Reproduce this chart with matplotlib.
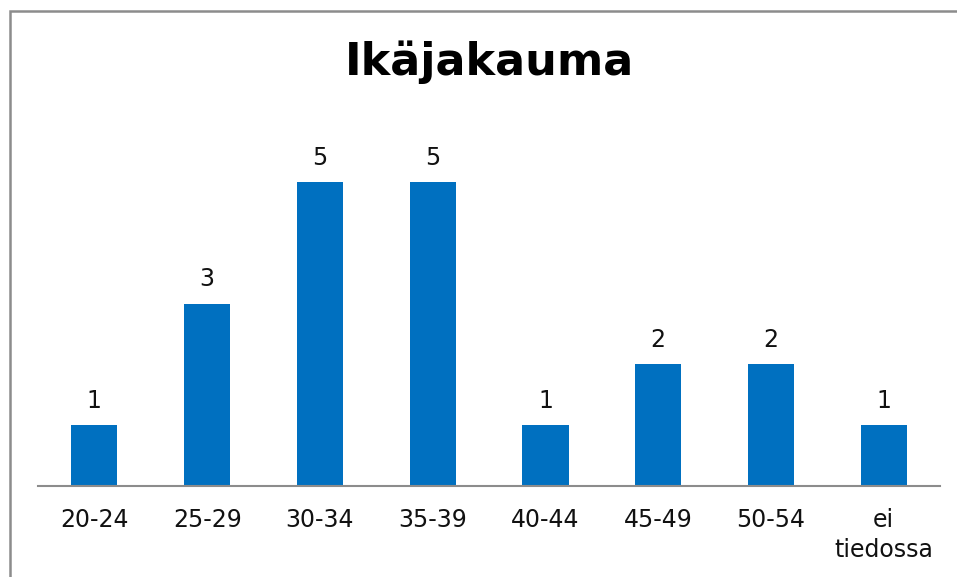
import numpy as np
import matplotlib.pyplot as plt
from matplotlib.patches import Rectangle

plt.rcParams['font.family'] = ['DejaVu Sans']

# Datos
ikaryhmat = ['20-24', '25-29', '30-34', '35-39', '40-44', '45-49', '50-54', 'ei\ntiedossa']
maarat = [1, 3, 5, 5, 1, 2, 2, 1]

fig = plt.figure(figsize=(9.57, 5.77), dpi=100)
ax = fig.add_axes([0.0397, 0.1577, 0.9426, 0.6326])

x = np.arange(len(ikaryhmat))
palkit = ax.bar(x, maarat, width=0.41, color='#0070C0')

# Etiquetas de valor encima de las barras
for xi, v in zip(x, maarat):
    ax.text(xi, v + 0.2, str(v), ha='center', va='bottom', fontsize=17, color='#111111')

ax.set_xlim(-0.5, len(ikaryhmat) - 0.5)
ax.set_ylim(0, 6)
ax.set_xticks(x)
ax.set_xticklabels(ikaryhmat, fontsize=17, color='#111111', linespacing=1.3)
ax.tick_params(axis='x', length=0, pad=16)
ax.set_yticks([])

for s in ['top', 'right', 'left']:
    ax.spines[s].set_visible(False)
ax.spines['bottom'].set_color('#8c8c8c')
ax.spines['bottom'].set_linewidth(1.5)

fig.text(0.512, 0.892, 'Ikäjakauma', ha='center', va='center',
         fontsize=32, fontweight='bold', color='#000000')

# Marco gris del gráfico
marco = Rectangle((9.5 / 957, -0.05), 1.2, 1 - 11 / 577 + 0.05,
                  transform=fig.transFigure, fill=False,
                  edgecolor='#8c8c8c', linewidth=1.8, clip_on=False)
fig.patches.append(marco)

fig.savefig('out.png', dpi=100, facecolor='white')
